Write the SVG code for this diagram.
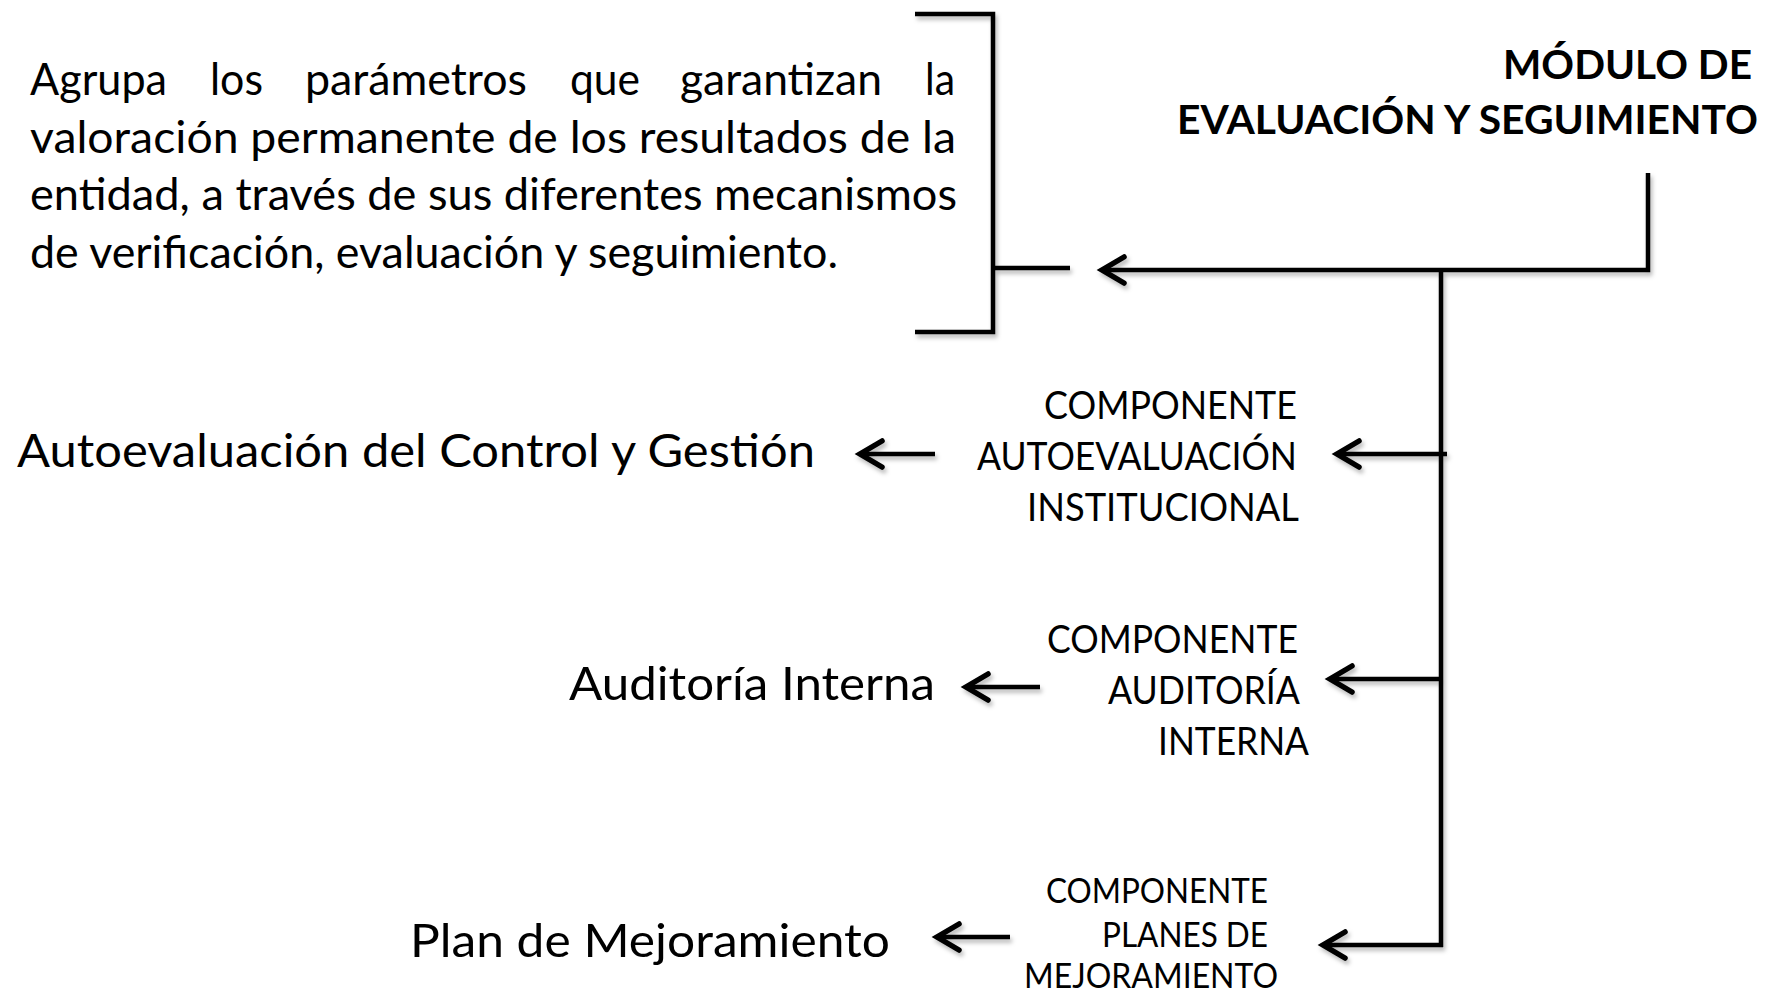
<svg xmlns="http://www.w3.org/2000/svg" width="1768" height="993" viewBox="0 0 1768 993">
<style>
  text { font-family: Lato, "Open Sans", "Liberation Sans", sans-serif; fill: #000; }
  .para { font-size: 44px; }
  .big { font-size: 47px; }
  .comp { font-size: 38px; }
  .comp3 { font-size: 34px; }
  .title { font-size: 41px; font-weight: bold; }
  .ln { fill: none; stroke: #000; stroke-width: 4.5; stroke-linecap: butt; stroke-linejoin: miter; }
</style>
<defs>
  <filter id="sh" x="-20%" y="-20%" width="140%" height="140%">
    <feDropShadow dx="2" dy="3.5" stdDeviation="2" flood-color="#000" flood-opacity="0.28"/>
  </filter>
  <marker id="ah" markerUnits="userSpaceOnUse" viewBox="-30 -18 36 36" markerWidth="36" markerHeight="36" refX="0" refY="0" orient="auto" overflow="visible">
    <path d="M-22,-13 L0,0 L-22,13" fill="none" stroke="#000" stroke-width="5.5" stroke-linecap="round" stroke-linejoin="miter"/>
  </marker>
</defs>

<g id="descripcion">
  <text class="para" y="95">
    <tspan x="30" textLength="137" lengthAdjust="spacingAndGlyphs">Agrupa</tspan>
    <tspan x="210" textLength="53" lengthAdjust="spacingAndGlyphs">los</tspan>
    <tspan x="305" textLength="222" lengthAdjust="spacingAndGlyphs">parámetros</tspan>
    <tspan x="570" textLength="70" lengthAdjust="spacingAndGlyphs">que</tspan>
    <tspan x="680" textLength="202" lengthAdjust="spacingAndGlyphs">garantizan</tspan>
    <tspan x="925" textLength="30" lengthAdjust="spacingAndGlyphs">la</tspan>
  </text>
  <text class="para" x="30" y="153" textLength="926" lengthAdjust="spacingAndGlyphs">valoración permanente de los resultados de la</text>
  <text class="para" x="30" y="210" textLength="927" lengthAdjust="spacingAndGlyphs">entidad, a través de sus diferentes mecanismos</text>
  <text class="para" x="30" y="268" textLength="808" lengthAdjust="spacingAndGlyphs">de verificación, evaluación y seguimiento.</text>
</g>

<g id="modulo">
  <text class="title" x="1503" y="79" textLength="249" lengthAdjust="spacingAndGlyphs">MÓDULO DE</text>
  <text class="title" x="1177" y="134" textLength="581" lengthAdjust="spacingAndGlyphs">EVALUACIÓN Y SEGUIMIENTO</text>
</g>

<g id="comp-autoevaluacion">
  <text class="comp" x="1044" y="419" textLength="253" lengthAdjust="spacingAndGlyphs">COMPONENTE</text>
  <text class="comp" x="977" y="470" textLength="320" lengthAdjust="spacingAndGlyphs">AUTOEVALUACIÓN</text>
  <text class="comp" x="1027" y="521" textLength="272" lengthAdjust="spacingAndGlyphs">INSTITUCIONAL</text>
</g>

<g id="comp-auditoria">
  <text class="comp" x="1047" y="653" textLength="251" lengthAdjust="spacingAndGlyphs">COMPONENTE</text>
  <text class="comp" x="1108" y="704" textLength="192" lengthAdjust="spacingAndGlyphs">AUDITORÍA</text>
  <text class="comp" x="1158" y="755" textLength="151" lengthAdjust="spacingAndGlyphs">INTERNA</text>
</g>

<g id="comp-planes">
  <text class="comp3" x="1046" y="903" textLength="222" lengthAdjust="spacingAndGlyphs">COMPONENTE</text>
  <text class="comp3" x="1102" y="947" textLength="166" lengthAdjust="spacingAndGlyphs">PLANES DE</text>
  <text class="comp3" x="1024" y="988" textLength="254" lengthAdjust="spacingAndGlyphs">MEJORAMIENTO</text>
</g>

<g id="autoevaluacion-control">
  <text class="big" x="17" y="467" textLength="798" lengthAdjust="spacingAndGlyphs">Autoevaluación del Control y Gestión</text>
</g>

<g id="auditoria-interna">
  <text class="big" x="569" y="700" textLength="366" lengthAdjust="spacingAndGlyphs">Auditoría Interna</text>
</g>

<g id="plan-mejoramiento">
  <text class="big" x="410" y="957" textLength="480" lengthAdjust="spacingAndGlyphs">Plan de Mejoramiento</text>
</g>

<g id="connectors" filter="url(#sh)">
  <polyline class="ln" points="915,14 993,14 993,332 915,332"/>
  <line class="ln" x1="993" y1="268" x2="1070" y2="268"/>
  <polyline class="ln" points="1648,173 1648,270 1102,270" marker-end="url(#ah)"/>
  <line class="ln" x1="1441" y1="270" x2="1441" y2="947"/>
  <line class="ln" x1="1447" y1="454" x2="1337" y2="454" marker-end="url(#ah)"/>
  <line class="ln" x1="1443" y1="679" x2="1330" y2="679" marker-end="url(#ah)"/>
  <line class="ln" x1="1443" y1="945" x2="1323" y2="945" marker-end="url(#ah)"/>
  <line class="ln" x1="935" y1="454" x2="860" y2="454" marker-end="url(#ah)"/>
  <line class="ln" x1="1040" y1="687" x2="966" y2="687" marker-end="url(#ah)"/>
  <line class="ln" x1="1010" y1="937" x2="937" y2="937" marker-end="url(#ah)"/>
</g>
</svg>
